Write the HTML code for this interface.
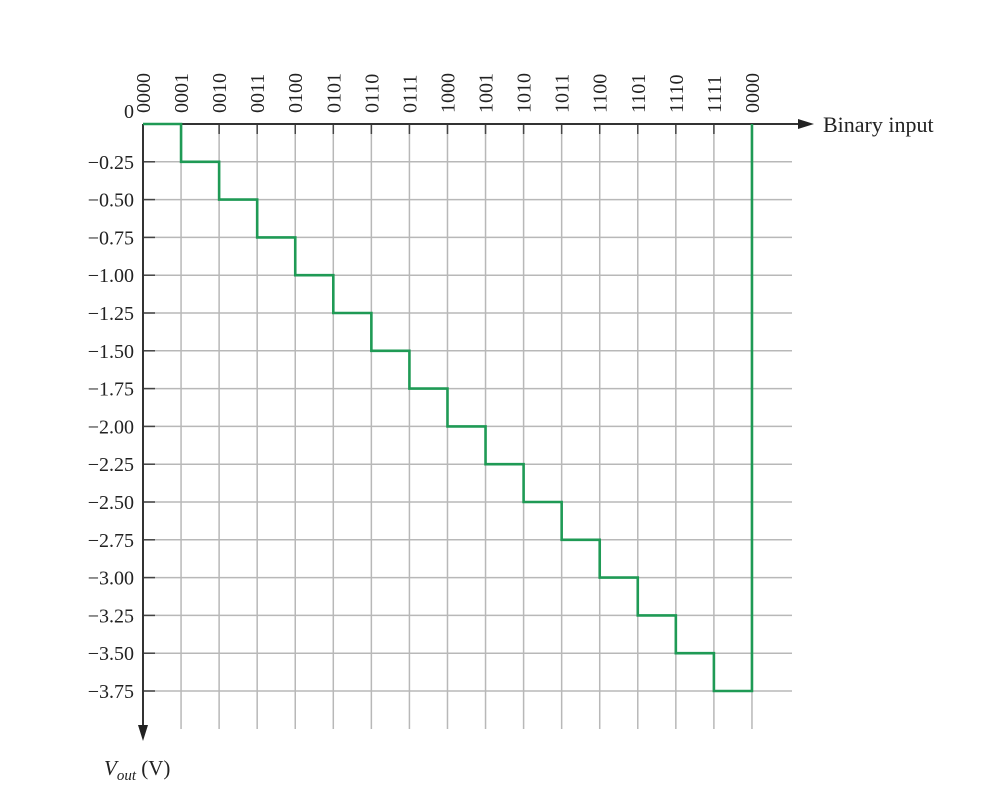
<!DOCTYPE html>
<html><head><meta charset="utf-8"><style>
html,body{margin:0;padding:0;background:#fff;}
svg{display:block;font-family:"Liberation Serif",serif;}
</style></head><body>
<svg id="chart" width="982" height="801" viewBox="0 0 982 801" xmlns="http://www.w3.org/2000/svg">
<g id="grid"></g>
<g id="axes"></g>
<g id="series"></g>
<g id="labels"></g>
</svg>
<script>
const categories = ["0000","0001","0010","0011","0100","0101","0110","0111","1000","1001","1010","1011","1100","1101","1110","1111","0000"];
const values = [0,-0.25,-0.5,-0.75,-1.0,-1.25,-1.5,-1.75,-2.0,-2.25,-2.5,-2.75,-3.0,-3.25,-3.5,-3.75,0];
const yTicks = [0,-0.25,-0.5,-0.75,-1.0,-1.25,-1.5,-1.75,-2.0,-2.25,-2.5,-2.75,-3.0,-3.25,-3.5,-3.75];
const yTickLabels = ["0","\u22120.25","\u22120.50","\u22120.75","\u22121.00","\u22121.25","\u22121.50","\u22121.75","\u22122.00","\u22122.25","\u22122.50","\u22122.75","\u22123.00","\u22123.25","\u22123.50","\u22123.75"];

const NS="http://www.w3.org/2000/svg";
const x0=143, dx=38.06, y0=124, dy=151.2;
const X=i=>x0+i*dx;
const Y=v=>y0-v*dy;
function mk(tag,attrs,parent){const e=document.createElementNS(NS,tag);for(const k in attrs)e.setAttribute(k,attrs[k]);parent.appendChild(e);return e;}
const grid=document.getElementById('grid'),axes=document.getElementById('axes'),series=document.getElementById('series'),labels=document.getElementById('labels');
const gridRight=792, gridBottom=729;
for(let i=1;i<categories.length;i++){
  const l=mk('line',{x1:X(i),x2:X(i),y1:y0,y2:gridBottom,stroke:'#b8b8b8','stroke-width':1.5},grid);
  
  
  const t=mk('line',{x1:X(i),x2:X(i),y1:y0,y2:y0+10,stroke:'#444','stroke-width':1.5},axes);
  
  
}
for(let j=1;j<yTicks.length;j++){
  const l=mk('line',{x1:x0,x2:gridRight,y1:Y(yTicks[j]),y2:Y(yTicks[j]),stroke:'#b8b8b8','stroke-width':1.5},grid);
  
  
  const t=mk('line',{x1:x0,x2:x0+12,y1:Y(yTicks[j]),y2:Y(yTicks[j]),stroke:'#444','stroke-width':1.5},axes);
  
  
}
let a=mk('line',{x1:x0,x2:803,y1:y0,y2:y0,stroke:'#333','stroke-width':2},axes);


a=mk('polygon',{points:'814,124 798,119 798,129',fill:'#222'},axes);


a=mk('line',{x1:x0,x2:x0,y1:y0,y2:730,stroke:'#333','stroke-width':2},axes);


a=mk('polygon',{points:'143,741 138,725 148,725',fill:'#222'},axes);


let d='M'+X(0)+','+Y(values[0]);
for(let i=1;i<values.length;i++){d+=' H'+X(i)+' V'+Y(values[i]);}
const p=mk('path',{d:d,fill:'none',stroke:'#1f9a55','stroke-width':2.6,'stroke-linejoin':'miter'},series);


categories.forEach((c,i)=>{
  const t=mk('text',{x:0,y:0,transform:'translate('+(X(i)+7)+',113) rotate(-90)','font-size':20,fill:'#222'},labels);
  t.textContent=c;
  
  
});
yTicks.forEach((v,j)=>{
  const yy= j===0 ? 118 : Y(v)+7;
  const t=mk('text',{x:134,y:yy,'text-anchor':'end','font-size':20,fill:'#222'},labels);
  t.textContent=yTickLabels[j];
  
  
});
let t=mk('text',{x:823,y:132,'font-size':22,fill:'#222'},labels);
t.textContent='Binary input';


t=mk('text',{x:104,y:775,'font-size':21,fill:'#222'},labels);
t.innerHTML='<tspan font-style="italic">V</tspan><tspan font-style="italic" font-size="15" dy="5">out</tspan><tspan dy="-5"> (V)</tspan>';


</script>
</body></html>
